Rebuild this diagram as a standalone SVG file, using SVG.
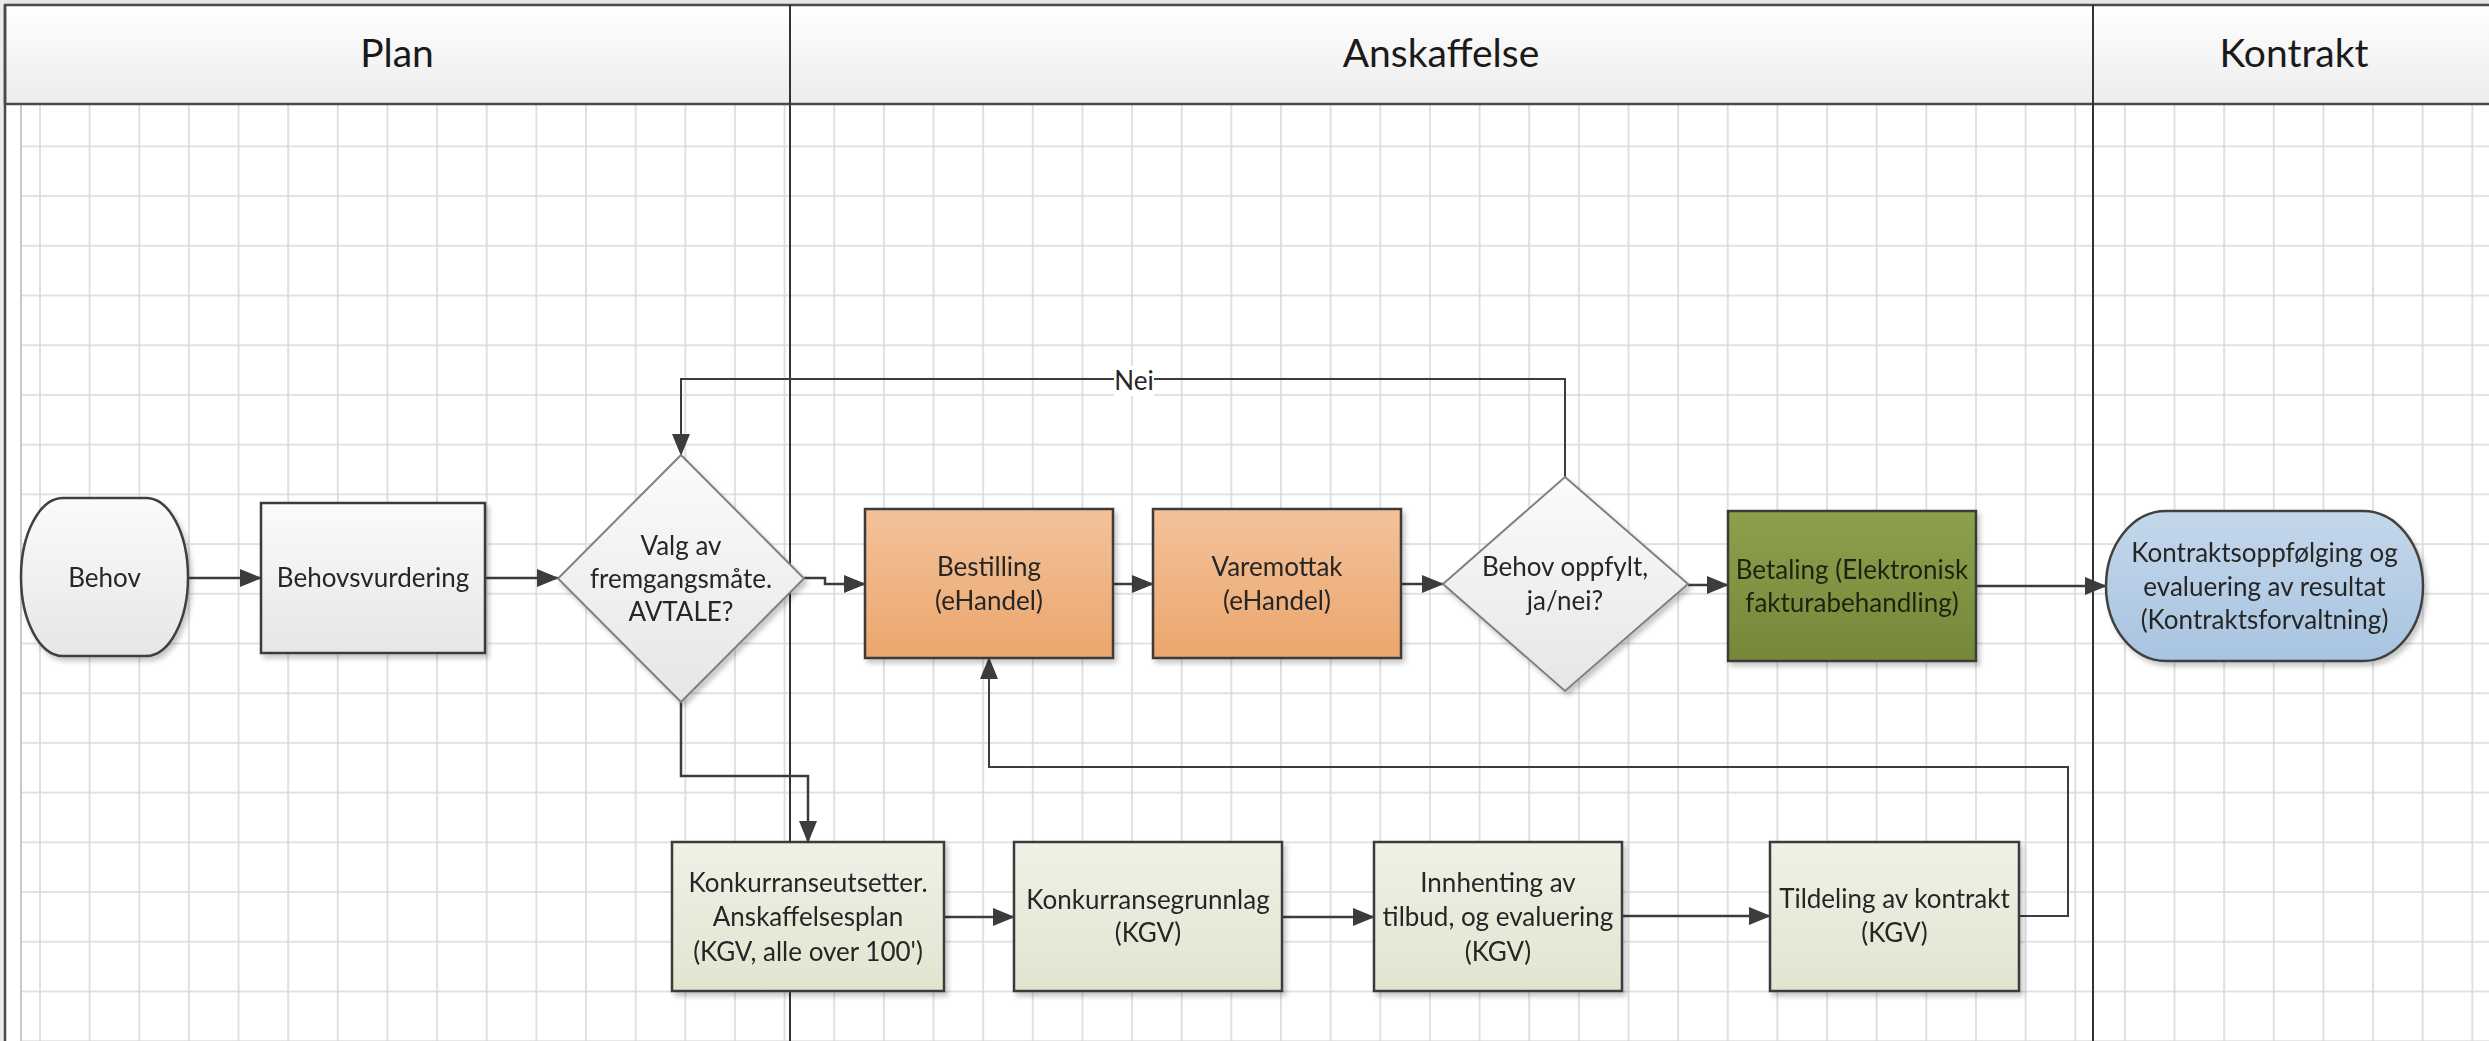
<svg xmlns="http://www.w3.org/2000/svg" width="2489" height="1041" viewBox="0 0 2489 1041">
<defs>
<style>
text{font-family:Lato,"Open Sans","Liberation Sans",sans-serif;fill:#262626;text-anchor:middle}
.t{font-size:26px}
.h{font-size:39px;fill:#1a1a1a}
.box{stroke:#3a3a3a;stroke-width:2.5}
.dia{stroke:#808080;stroke-width:2}
.c{fill:none;stroke:#3c3c3c;stroke-width:2.5}
.cl{fill:none;stroke:#3c3c3c;stroke-width:2}
</style>
<linearGradient id="gGray" x1="0" y1="0" x2="0" y2="1"><stop offset="0" stop-color="#fbfbfb"/><stop offset="1" stop-color="#e6e6e6"/></linearGradient>
<linearGradient id="gHead" x1="0" y1="0" x2="0" y2="1"><stop offset="0" stop-color="#ffffff"/><stop offset="1" stop-color="#ececec"/></linearGradient>
<linearGradient id="gOrange" x1="0" y1="0" x2="0" y2="1"><stop offset="0" stop-color="#f3c29b"/><stop offset="1" stop-color="#eca66c"/></linearGradient>
<linearGradient id="gGreen" x1="0" y1="0" x2="0" y2="1"><stop offset="0" stop-color="#8ca04c"/><stop offset="1" stop-color="#75883a"/></linearGradient>
<linearGradient id="gBlue" x1="0" y1="0" x2="0" y2="1"><stop offset="0" stop-color="#c4d7eb"/><stop offset="1" stop-color="#a8c4e0"/></linearGradient>
<linearGradient id="gLight" x1="0" y1="0" x2="0" y2="1"><stop offset="0" stop-color="#eff1e6"/><stop offset="1" stop-color="#e0e5cf"/></linearGradient>
<pattern id="grid" patternUnits="userSpaceOnUse" x="39" y="145.4" width="49.64" height="49.71">
<path d="M1,0 V49.71 M0,1 H49.64" fill="none" stroke="#d9d9d9" stroke-width="1.6"/>
</pattern>
<filter id="sh" x="-10%" y="-10%" width="130%" height="130%">
<feDropShadow dx="3" dy="4" stdDeviation="2.5" flood-color="#000" flood-opacity="0.22"/>
</filter>
<marker id="ar" markerUnits="userSpaceOnUse" markerWidth="22" markerHeight="18" refX="21" refY="9" orient="auto">
<path d="M0,0 L22,9 L0,18 z" fill="#3c3c3c"/>
</marker>
</defs>

<g id="background">
<rect x="0" y="0" width="2489" height="1041" fill="#ffffff"/>
<rect x="0" y="0" width="2489" height="4" fill="#e6e6e6"/>
<rect x="0" y="0" width="5" height="1041" fill="#ececec"/>
<rect x="21" y="104" width="2468" height="937" fill="url(#grid)"/>
<line x1="21" y1="104" x2="21" y2="1041" stroke="#c8c8c8" stroke-width="2"/>
</g>

<g id="lanes">
<rect x="5" y="5" width="2500" height="99" fill="url(#gHead)" stroke="#4a4a4a" stroke-width="2.5"/>
<line x1="5" y1="5" x2="5" y2="1041" stroke="#4a4a4a" stroke-width="2.5"/>
<line x1="790" y1="5" x2="790" y2="1041" stroke="#333" stroke-width="2"/>
<line x1="2093" y1="5" x2="2093" y2="1041" stroke="#333" stroke-width="2"/>
<text class="h" x="397" y="67">Plan</text>
<text class="h" x="1441" y="67">Anskaffelse</text>
<text class="h" x="2294" y="67">Kontrakt</text>
</g>

<g id="connectors">
<path class="c" d="M188,578 H261" marker-end="url(#ar)"/>
<path class="c" d="M485,578 H558" marker-end="url(#ar)"/>
<path class="c" d="M804,578 H825 V584 H865" marker-end="url(#ar)"/>
<path class="c" d="M1113,584 H1153" marker-end="url(#ar)"/>
<path class="c" d="M1401,584 H1443" marker-end="url(#ar)"/>
<path class="c" d="M1688,585 H1728" marker-end="url(#ar)"/>
<path class="c" d="M1976,586 H2106" marker-end="url(#ar)"/>
<path class="cl" d="M1565,477 V379 H681 V455" marker-end="url(#ar)"/>
<rect x="1114" y="366" width="40" height="30" fill="#ffffff"/>
<text class="t" x="1134" y="390">Nei</text>
<path class="c" d="M681,702 V776 H808 V842" marker-end="url(#ar)"/>
<path class="c" d="M944,917 H1014" marker-end="url(#ar)"/>
<path class="c" d="M1282,917 H1374" marker-end="url(#ar)"/>
<path class="c" d="M1622,916 H1770" marker-end="url(#ar)"/>
<path class="cl" d="M2019,916 H2068 V767 H989 V658" marker-end="url(#ar)"/>
</g>

<g id="behov" filter="url(#sh)">
<rect x="21" y="498" width="167" height="158" rx="42" ry="79" fill="url(#gGray)" stroke="#404040" stroke-width="2.5"/>
<text class="t" x="104.5" y="587">Behov</text>
</g>

<g id="behovsvurdering" filter="url(#sh)">
<rect class="box" x="261" y="503" width="224" height="150" fill="url(#gGray)"/>
<text class="t" x="373" y="587">Behovsvurdering</text>
</g>

<g id="valg" filter="url(#sh)">
<polygon class="dia" points="681,455 804,578.5 681,702 558,578.5" fill="url(#gGray)"/>
<text class="t" x="681" y="555">Valg av</text>
<text class="t" x="681" y="588">fremgangsmåte.</text>
<text class="t" x="681" y="621">AVTALE?</text>
</g>

<g id="bestilling" filter="url(#sh)">
<rect class="box" x="865" y="509" width="248" height="149" fill="url(#gOrange)"/>
<text class="t" x="989" y="576">Bestilling</text>
<text class="t" x="989" y="610">(eHandel)</text>
</g>

<g id="varemottak" filter="url(#sh)">
<rect class="box" x="1153" y="509" width="248" height="149" fill="url(#gOrange)"/>
<text class="t" x="1277" y="576">Varemottak</text>
<text class="t" x="1277" y="610">(eHandel)</text>
</g>

<g id="behov-oppfylt" filter="url(#sh)">
<polygon class="dia" points="1565,477 1688,584 1565,691 1443,584" fill="url(#gGray)"/>
<text class="t" x="1565" y="576">Behov oppfylt,</text>
<text class="t" x="1565" y="610">ja/nei?</text>
</g>

<g id="betaling" filter="url(#sh)">
<rect class="box" x="1728" y="511" width="248" height="150" fill="url(#gGreen)"/>
<text class="t" x="1852" y="579" style="fill:#1c2410">Betaling (Elektronisk</text>
<text class="t" x="1852" y="612" style="fill:#1c2410">fakturabehandling)</text>
</g>

<g id="kontraktsoppfolging" filter="url(#sh)">
<rect x="2106" y="511" width="317" height="150" rx="60" ry="75" fill="url(#gBlue)" stroke="#404040" stroke-width="2.5"/>
<text class="t" x="2264.5" y="562">Kontraktsoppfølging og</text>
<text class="t" x="2264.5" y="596">evaluering av resultat</text>
<text class="t" x="2264.5" y="629">(Kontraktsforvaltning)</text>
</g>

<g id="konkurranseutsetter" filter="url(#sh)">
<rect class="box" x="672" y="842" width="272" height="149" fill="url(#gLight)"/>
<text class="t" x="808" y="892">Konkurranseutsetter.</text>
<text class="t" x="808" y="926">Anskaffelsesplan</text>
<text class="t" x="808" y="961">(KGV, alle over 100')</text>
</g>

<g id="konkurransegrunnlag" filter="url(#sh)">
<rect class="box" x="1014" y="842" width="268" height="149" fill="url(#gLight)"/>
<text class="t" x="1148" y="909">Konkurransegrunnlag</text>
<text class="t" x="1148" y="942">(KGV)</text>
</g>

<g id="innhenting" filter="url(#sh)">
<rect class="box" x="1374" y="842" width="248" height="149" fill="url(#gLight)"/>
<text class="t" x="1498" y="892">Innhenting av</text>
<text class="t" x="1498" y="926">tilbud, og evaluering</text>
<text class="t" x="1498" y="961">(KGV)</text>
</g>

<g id="tildeling" filter="url(#sh)">
<rect class="box" x="1770" y="842" width="249" height="149" fill="url(#gLight)"/>
<text class="t" x="1894.5" y="908">Tildeling av kontrakt</text>
<text class="t" x="1894.5" y="942">(KGV)</text>
</g>
</svg>
